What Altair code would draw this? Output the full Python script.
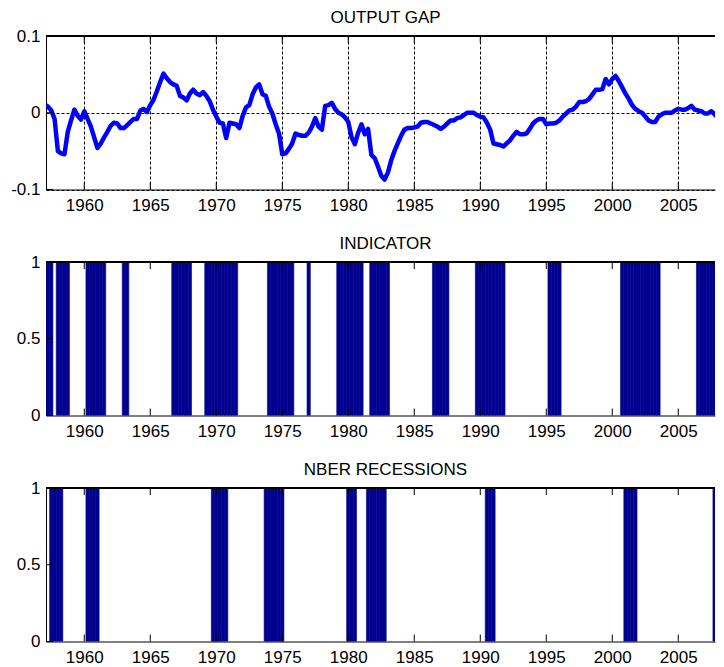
import altair as alt
import pandas as pd
import numpy as np

# ---------------- data ----------------
gap_start_year = 1957.0  # first quarter of the sample, quarterly steps
gap_values = [
    0.011, 0.008, 0.003, -0.008,      # 1957
    -0.050, -0.053, -0.054, -0.025,   # 1958
    -0.010, 0.004, -0.004, -0.009,    # 1959
    0.002, -0.008, -0.018, -0.032,    # 1960
    -0.046, -0.040, -0.032, -0.025,   # 1961
    -0.017, -0.013, -0.014, -0.020,   # 1962
    -0.020, -0.016, -0.012, -0.008,   # 1963
    -0.008, 0.003, 0.005, 0.001,      # 1964
    0.010, 0.017, 0.028, 0.040,       # 1965
    0.051, 0.045, 0.040, 0.037,       # 1966
    0.035, 0.022, 0.020, 0.016,       # 1967
    0.025, 0.030, 0.025, 0.023,       # 1968
    0.027, 0.022, 0.015, 0.004,       # 1969
    -0.005, -0.013, -0.014, -0.033,   # 1970
    -0.013, -0.014, -0.015, -0.020,   # 1971
    -0.004, 0.007, 0.010, 0.024,      # 1972
    0.033, 0.037, 0.024, 0.022,       # 1973
    0.008, -0.001, -0.015, -0.027,    # 1974
    -0.054, -0.053, -0.047, -0.040,   # 1975
    -0.027, -0.029, -0.030, -0.030,   # 1976
    -0.026, -0.018, -0.007, -0.018,   # 1977
    -0.022, 0.009, 0.010, 0.013,      # 1978
    0.005, 0.000, -0.002, -0.006,     # 1979
    -0.012, -0.032, -0.041, -0.026,   # 1980
    -0.015, -0.028, -0.021, -0.055,   # 1981
    -0.059, -0.070, -0.082, -0.087,   # 1982
    -0.078, -0.062, -0.050, -0.040,   # 1983
    -0.030, -0.022, -0.020, -0.020,   # 1984
    -0.019, -0.018, -0.013, -0.012,   # 1985
    -0.012, -0.014, -0.016, -0.018,   # 1986
    -0.021, -0.018, -0.014, -0.010,   # 1987
    -0.010, -0.007, -0.006, -0.003,   # 1988
    0.000, 0.000, 0.000, -0.003,      # 1989
    -0.005, -0.006, -0.013, -0.022,   # 1990
    -0.040, -0.041, -0.042, -0.044,   # 1991
    -0.040, -0.036, -0.030, -0.025,   # 1992
    -0.028, -0.028, -0.027, -0.021,   # 1993
    -0.014, -0.010, -0.008, -0.008,   # 1994
    -0.015, -0.014, -0.014, -0.013,   # 1995
    -0.010, -0.005, -0.001, 0.003,    # 1996
    0.004, 0.008, 0.014, 0.014,       # 1997
    0.015, 0.018, 0.024, 0.030,       # 1998
    0.030, 0.031, 0.044, 0.037,       # 1999
    0.044, 0.048, 0.041, 0.033,       # 2000
    0.025, 0.018, 0.010, 0.005,       # 2001
    0.002, 0.000, -0.005, -0.010,     # 2002
    -0.012, -0.012, -0.005, -0.002,   # 2003
    0.000, 0.000, 0.000, 0.003,       # 2004
    0.005, 0.004, 0.004, 0.006,       # 2005
    0.009, 0.004, 0.003, 0.002,       # 2006
    -0.001, -0.001, 0.002, -0.002,    # 2007
    -0.007, -0.013, -0.035, -0.060,   # 2008
]

# runs of quarters (first, last) where the series equals 1
indicator_runs = [
    (1957.0, 1957.5), (1958.0, 1958.75), (1960.25, 1961.5), (1963.0, 1963.25),
    (1966.75, 1968.0), (1969.25, 1971.5), (1974.0, 1975.75), (1977.0, 1977.0),
    (1979.25, 1981.0), (1981.75, 1983.0), (1986.5, 1987.5), (1989.75, 1991.75),
    (1995.25, 1996.0), (2000.75, 2003.5), (2006.5, 2008.75),
]
nber_runs = [
    (1957.5, 1958.25), (1960.25, 1961.0), (1969.75, 1970.75), (1973.75, 1975.0),
    (1980.0, 1980.5), (1981.5, 1982.75), (1990.5, 1991.0), (2001.0, 2001.75),
    (2007.75, 2008.75),
]

x_ticks = [1960, 1965, 1970, 1975, 1980, 1985, 1990, 1995, 2000, 2005]
gap_y_ticks = [-0.1, 0, 0.1]
bar_y_ticks = [0, 0.5, 1]
titles = ["OUTPUT GAP", "INDICATOR", "NBER RECESSIONS"]

# ---------------- build tables ----------------
gap_df = pd.DataFrame({
    "t": gap_start_year + 0.25 * np.arange(len(gap_values)),
    "v": gap_values,
})


def runs_to_df(runs):
    qs = []
    for a, b in runs:
        q = a
        while q <= b + 1e-9:
            qs.append(q)
            q += 0.25
    return pd.DataFrame({"t": qs, "v": [1] * len(qs)})


ind_df = runs_to_df(indicator_runs)
nber_df = runs_to_df(nber_runs)

# ---------------- styling ----------------
FONT = "Liberation Sans"
FS = 17
W, H = 669, 153.5
PX_PER_YEAR = 13.2
X_DOM = [1957.1, 1957.1 + W / PX_PER_YEAR]
TICK = 7
BAR_COLOR = "#00008F"


def x_axis(grid):
    return alt.Axis(values=x_ticks, format="d", title=None, ticks=False,
                    labelPadding=8, labelFont=FONT, labelFontSize=FS,
                    labelColor="black", domainColor="black", domainWidth=1,
                    labelFlush=False, labelOverlap=False, grid=grid,
                    gridColor="black", gridDash=[3, 2], gridWidth=1,
                    gridOpacity=1)


def y_axis(vals, grid):
    return alt.Axis(values=vals, labelExpr="'' + datum.value", title=None,
                    ticks=False, labelPadding=6, labelFont=FONT,
                    labelFontSize=FS, labelColor="black", domainColor="black",
                    domainWidth=1, minExtent=38, maxExtent=38, grid=grid,
                    gridColor="black", gridDash=[3, 2], gridWidth=1,
                    gridOpacity=1)


def frame_layers(y_vals, y_dom, grid):
    xs = alt.Scale(domain=X_DOM, nice=False, zero=False)
    ys = alt.Scale(domain=y_dom, nice=False, zero=False)
    xa = x_axis(grid)
    ya = y_axis(y_vals, grid)
    xt = pd.DataFrame({"t": x_ticks})
    yt = pd.DataFrame({"v": y_vals})
    bottom_ticks = alt.Chart(xt).mark_rule(color="black", strokeWidth=1).encode(
        x=alt.X("t:Q", scale=xs, axis=xa),
        y=alt.value(H), y2=alt.value(H - TICK))
    top_ticks = alt.Chart(xt).mark_rule(color="black", strokeWidth=1).encode(
        x=alt.X("t:Q", scale=xs, axis=xa),
        y=alt.value(0), y2=alt.value(TICK))
    left_ticks = alt.Chart(yt).mark_rule(color="black", strokeWidth=1).encode(
        y=alt.Y("v:Q", scale=ys, axis=ya),
        x=alt.value(0), x2=alt.value(TICK))
    top_border = alt.Chart(xt).mark_rule(color="black", strokeWidth=1).encode(
        x=alt.value(0), x2=alt.value(W), y=alt.value(0))
    return [bottom_ticks, top_ticks, left_ticks, top_border], xs, ys, xa, ya


def title(txt):
    return alt.TitleParams(txt, font=FONT, fontSize=FS, fontWeight="normal",
                           color="black", offset=0.5, anchor="middle",
                           frame="group", dx=5)


# Panel 1: output gap line
frame1, xs1, ys1, xa1, ya1 = frame_layers(gap_y_ticks, [-0.1, 0.1], True)
line = alt.Chart(gap_df).mark_line(color="#0000FF", strokeWidth=4.5,
                                   strokeJoin="round", strokeCap="round",
                                   clip=True).encode(
    x=alt.X("t:Q", scale=xs1, axis=xa1),
    y=alt.Y("v:Q", scale=ys1, axis=ya1),
)
p1 = alt.layer(line, *frame1).properties(
    width=W, height=H, title=title(titles[0]))


def bar_panel(df, ttl):
    frame, xs, ys, xa, ya = frame_layers(bar_y_ticks, [0, 1], False)
    bars = alt.Chart(df).transform_calculate(
        t0="datum.t - 0.125", t1="datum.t + 0.125"
    ).mark_rect(color=BAR_COLOR, clip=True, stroke=BAR_COLOR,
                strokeWidth=0.6).encode(
        x=alt.X("t0:Q", scale=xs, axis=xa),
        x2="t1:Q",
        y=alt.Y("v:Q", scale=ys, axis=ya),
        y2=alt.datum(0),
    )
    return alt.layer(bars, *frame).properties(
        width=W, height=H, title=title(ttl))


p2 = bar_panel(ind_df, titles[1])
p3 = bar_panel(nber_df, titles[2])

chart = alt.vconcat(p1, p2, p3, spacing=72, bounds="flush").properties(
    padding={"left": 0, "top": 0, "right": 0, "bottom": 0},
    background="white",
).configure_view(stroke=None)

chart.save("out.html", embed_options={"renderer": "svg", "actions": False})
